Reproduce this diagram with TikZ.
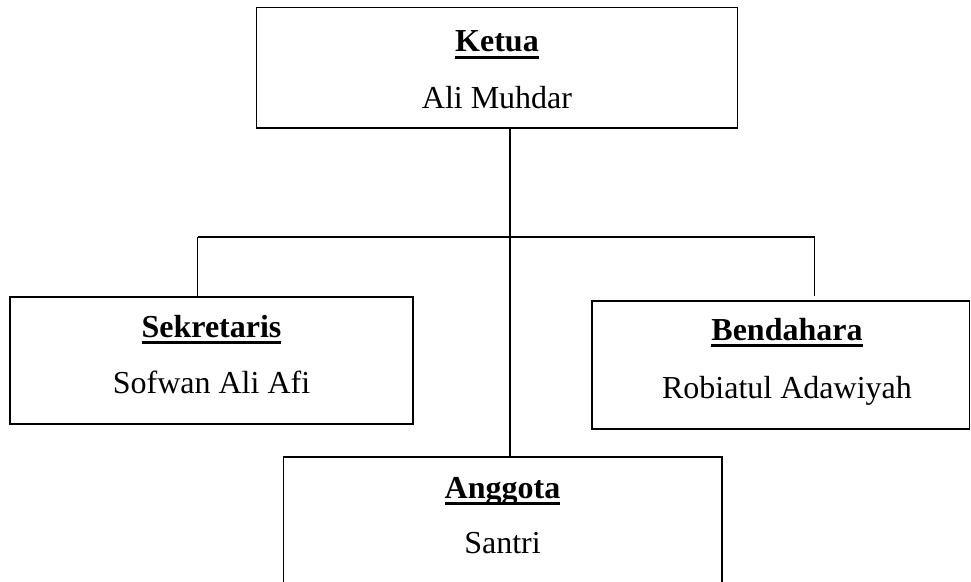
\documentclass[tikz,border=0pt]{standalone}
\usepackage{fontspec}
\setmainfont{Liberation Serif}
\newcommand{\garis}[1]{\setbox0\hbox{#1}\rlap{\rule[-7pt]{\wd0}{2.6pt}}\box0}
\begin{document}
\begin{tikzpicture}[x=1pt,y=-1pt,
  kotak/.style={draw, line width=1.6pt, rectangle, inner sep=0pt},
  hubung/.style={line width=1.6pt},
  judul/.style={anchor=base, inner sep=0pt, font=\fontsize{32}{38}\selectfont\bfseries},
  nama/.style={anchor=base, inner sep=0pt, font=\fontsize{32}{38}\selectfont}]
\clip (0,0) rectangle (971,581);
\node[kotak, minimum width=481pt, minimum height=120.5pt] (ketua) at (497,67.75){};
\node[kotak, minimum width=403pt, minimum height=127pt] (sekre) at (211.5,360.5){};
\node[kotak, minimum width=377.5pt, minimum height=128pt] (benda) at (780.75,365){};
\node[kotak, minimum width=438.5pt, minimum height=163pt] (anggota) at (502.75,538.5){};
\node[judul] (tketua) at (497,51.5){\garis{Ketua}};
\node[nama] (nketua) at (497,108){Ali Muhdar};
\node[judul] (tsekre) at (211.5,337){\garis{Sekretaris}};
\node[nama] (nsekre) at (211.5,393){Sofwan Ali Afi};
\node[judul] (tbenda) at (787,340){\garis{Bendahara}};
\node[nama] (nbenda) at (787,398){Robiatul Adawiyah};
\node[judul] (tanggota) at (502.5,498){\garis{Anggota}};
\node[nama] (nanggota) at (502.5,553){Santri};
\coordinate (cabang) at (510,237);
\coordinate (kiri) at (197.5,237);
\coordinate (kanan) at (814.5,237);
\draw[hubung](ketua.south -| cabang) -- (anggota.north -| cabang);
\draw[hubung](kiri) -- (kanan);
\draw[hubung](sekre.north -| kiri) -- (kiri);
\draw[hubung, shorten >=4pt](kanan) -- (benda.north -| kanan);
\end{tikzpicture}
\end{document}
